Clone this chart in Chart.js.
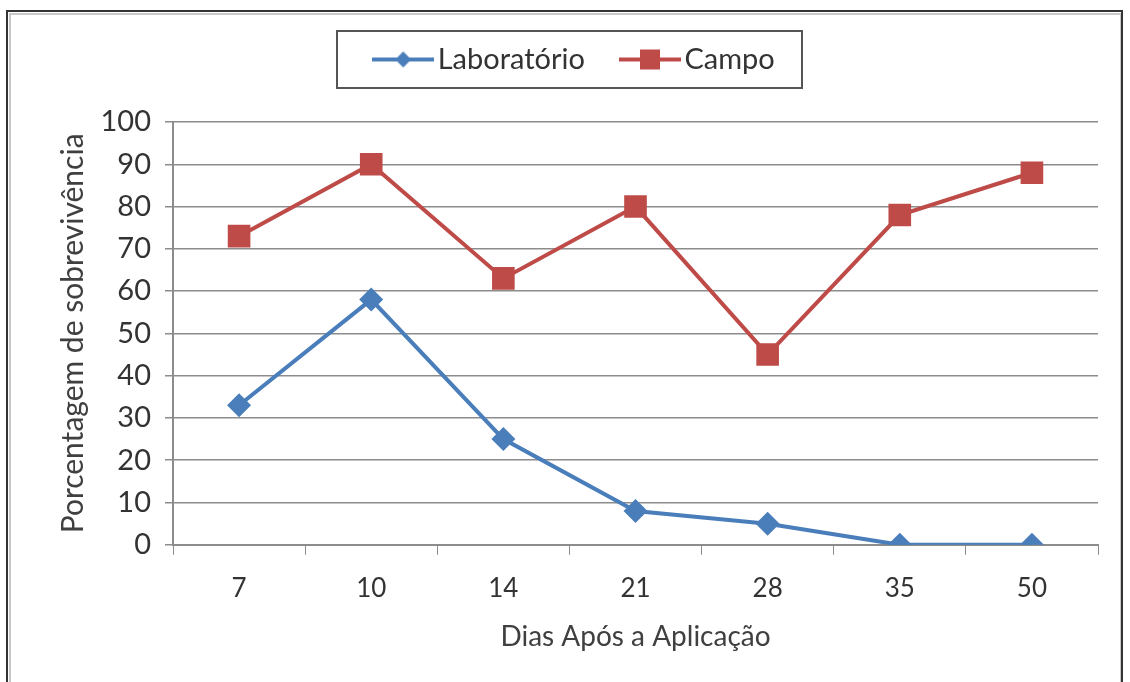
<!DOCTYPE html>
<html>
<head>
<meta charset="utf-8">
<script src="https://cdn.jsdelivr.net/npm/chart.js@4"></script>
<style>
    html, body { margin: 0; padding: 0; background: #fff; }
    #wrap { width: 1130px; height: 682px; }
</style>
</head>
<body>
<div id="wrap"><canvas id="chart" width="1130" height="682"></canvas></div>
<script>
// dados
const dias = ['7', '10', '14', '21', '28', '35', '50'];
const laboratorio = [33, 58, 25, 8, 5, 0, 0];
const campo = [73, 90, 63, 80, 45, 78, 88];
const yTicks = [0, 10, 20, 30, 40, 50, 60, 70, 80, 90, 100];

const azul = '#4a7ebb';
const vermelho = '#be4b48';
const fonte = 'Lato, "Open Sans", sans-serif';

// ícone da legenda: linha + marcador
function legendIcon(color, shape) {
    const c = document.createElement('canvas');
    c.width = 62;
    c.height = 24;
    const ctx = c.getContext('2d');
    ctx.strokeStyle = color;
    ctx.lineWidth = 4;
    ctx.beginPath();
    ctx.moveTo(0, 12);
    ctx.lineTo(62, 12);
    ctx.stroke();
    ctx.fillStyle = color;
    ctx.beginPath();
    if (shape === 'diamond') {
        ctx.moveTo(31, 4);
        ctx.lineTo(39, 12);
        ctx.lineTo(31, 20);
        ctx.lineTo(23, 12);
    } else {
        ctx.rect(21, 2, 20, 20);
    }
    ctx.fill();
    return c;
}

const moldura = {
    id: 'moldura',
    beforeLayout(chart) {
        const lg = chart.legend;
        if (lg && !lg._extra) {
            // espaço extra entre a legenda e o gráfico
            const fit = lg.fit;
            lg.fit = function() {
                fit.call(this);
                this.height += 38;
            };
            // legenda um pouco à direita, como no original
            const draw = lg.draw;
            lg.draw = function() {
                this.ctx.save();
                this.ctx.translate(30, 0);
                draw.apply(this, arguments);
                this.ctx.restore();
            };
            lg._extra = true;
        }
    },
    beforeDraw(chart) {
        const ctx = chart.ctx;
        ctx.save();
        ctx.fillStyle = '#fff';
        ctx.fillRect(0, 0, chart.width, chart.height);
        // borda externa
        ctx.strokeStyle = '#c8c8c8';
        ctx.lineWidth = 2;
        ctx.strokeRect(10, 14, 1111, 680);
        ctx.strokeStyle = '#333';
        ctx.lineWidth = 2;
        ctx.strokeRect(7, 11, 1115, 682);
        ctx.restore();
    },
    afterDraw(chart) {
        const ctx = chart.ctx;
        ctx.save();
        ctx.strokeStyle = '#555';
        ctx.lineWidth = 2;
        ctx.strokeRect(337, 31, 465, 57);
        ctx.restore();
    }
};

const ctx = document.getElementById('chart').getContext('2d');
new Chart(ctx, {
    type: 'line',
    data: {
        labels: dias,
        datasets: [{
            label: 'Laboratório',
            data: laboratorio,
            borderColor: azul,
            backgroundColor: azul,
            borderWidth: 4,
            pointStyle: 'rectRot',
            pointRadius: 12,
            pointHoverRadius: 12,
            pointBorderWidth: 0,
            tension: 0
        }, {
            label: 'Campo',
            data: campo,
            borderColor: vermelho,
            backgroundColor: vermelho,
            borderWidth: 4,
            pointStyle: 'rect',
            pointRadius: 16,
            pointHoverRadius: 16,
            pointBorderWidth: 0,
            tension: 0
        }]
    },
    options: {
        responsive: false,
        animation: false,
        layout: { padding: { left: 0, right: 32, top: 0, bottom: 31 } },
        plugins: {
            tooltip: { enabled: false },
            legend: {
                position: 'top',
                labels: {
                    usePointStyle: true,
                    pointStyleWidth: 40,
                    boxHeight: 24,
                    padding: 45,
                    color: '#333',
                    font: { family: fonte, size: 29 },
                    generateLabels(chart) {
                        return [
                            { text: 'Laboratório', pointStyle: legendIcon(azul, 'diamond'), datasetIndex: 0, fontColor: '#333', lineWidth: 0, strokeStyle: 'transparent', fillStyle: azul },
                            { text: 'Campo', pointStyle: legendIcon(vermelho, 'rect'), datasetIndex: 1, fontColor: '#333', lineWidth: 0, strokeStyle: 'transparent', fillStyle: vermelho }
                        ];
                    }
                }
            }
        },
        scales: {
            x: {
                offset: true,
                grid: {
                    offset: true,
                    drawOnChartArea: false,
                    drawTicks: true,
                    tickLength: 10,
                    color: '#8c8c8c'
                },
                border: { color: '#8c8c8c', width: 2 },
                ticks: {
                    color: '#333',
                    font: { family: fonte, size: 26 },
                    padding: 18
                },
                title: {
                    display: true,
                    text: 'Dias Após a Aplicação',
                    color: '#404040',
                    font: { family: fonte, size: 28, lineHeight: 1 },
                    padding: { top: 1, bottom: 0 }
                }
            },
            y: {
                min: 0,
                max: 100,
                afterBuildTicks(scale) {
                    scale.ticks = yTicks.map(v => ({ value: v }));
                },
                afterFit(scale) {
                    scale.width = 173;
                },
                grid: {
                    color: '#8c8c8c',
                    lineWidth: 1.5,
                    tickLength: 8
                },
                border: { color: '#8c8c8c', width: 2 },
                ticks: {
                    color: '#333',
                    font: { family: fonte, size: 29 },
                    padding: 14
                },
                title: {
                    display: true,
                    text: 'Porcentagem de sobrevivência',
                    color: '#404040',
                    font: { family: fonte, size: 30 },
                    padding: { top: 55, bottom: 0 }
                }
            }
        }
    },
    plugins: [moldura]
});
</script>
</body>
</html>
